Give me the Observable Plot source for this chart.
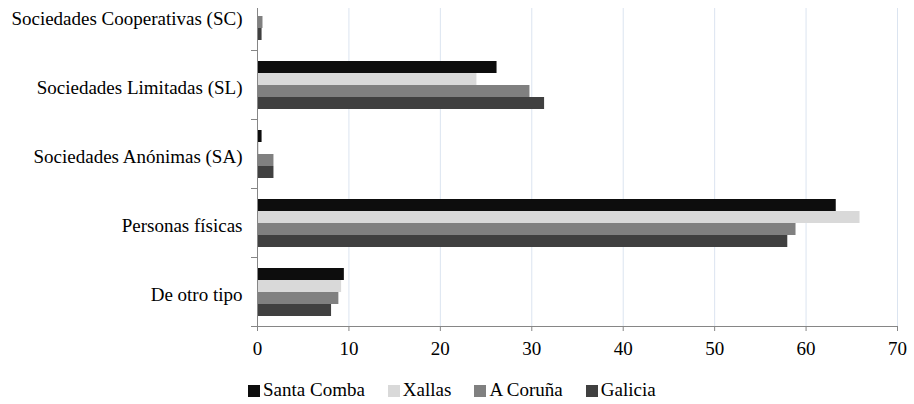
<!DOCTYPE html>
<html>
<head>
<meta charset="utf-8">
<script src="https://cdn.jsdelivr.net/npm/d3@7"></script>
<script src="https://cdn.jsdelivr.net/npm/@observablehq/plot@0.6"></script>
<style>
  html, body { margin: 0; padding: 0; background: white; }
  #wrap { position: relative; width: 914px; height: 404px; overflow: hidden; font-family: "Liberation Serif", "Times New Roman", "DejaVu Serif", serif; }
  #chart { position: absolute; left: 0; top: 8px; }
  #chart svg { overflow: visible; clip-path: polygon(0px -20px, 250px -20px, 250px 0px, 914px 0px, 914px 360px, 0px 360px); }
  #legend { position: absolute; left: 248px; top: 379px; display: flex; gap: 23px; font-size: 19px; color: #000; white-space: nowrap; }
  .item { display: flex; align-items: center; }
  .sw { width: 12px; height: 12px; margin-right: 3px; margin-top: 1px; }
</style>
</head>
<body>
<div id="wrap">
  <div id="chart"></div>
  <div id="legend"></div>
</div>
<script>
const categories = ["Sociedades Cooperativas (SC)", "Sociedades Limitadas (SL)", "Sociedades Anónimas (SA)", "Personas físicas", "De otro tipo"];
const series = ["Santa Comba", "Xallas", "A Coruña", "Galicia"];
const santaComba = [0, 26.2, 0.5, 63.3, 9.5];
const xallas = [0, 24.0, 0.2, 65.9, 9.2];
const aCoruna = [0.6, 29.8, 1.8, 58.9, 8.9];
const galicia = [0.5, 31.4, 1.8, 58.0, 8.1];
const xTicks = [0, 10, 20, 30, 40, 50, 60, 70];
const colors = ["#0d0d0d", "#d9d9d9", "#808080", "#404040"];

const values = [santaComba, xallas, aCoruna, galicia];
const rows = categories.flatMap((c, i) => series.map((s, j) => ({category: c, series: s, value: values[j][i]})));

const serifFont = "'Liberation Serif', 'Times New Roman', 'DejaVu Serif', serif";
const chart = Plot.plot({
  width: 914,
  height: 360,
  marginLeft: 257,
  marginRight: 17,
  marginTop: 0,
  marginBottom: 40,
  style: {fontFamily: serifFont, fontSize: "19px", color: "#000", background: "transparent"},
  x: {domain: [0, 70], axis: null},
  y: {domain: series, paddingInner: 0, paddingOuter: 0.8, axis: null},
  fy: {domain: categories, range: [-29, 320], paddingInner: 0, paddingOuter: 0, axis: null},
  color: {domain: series, range: colors},
  marks: [
    Plot.gridX(xTicks, {stroke: "#dbe4f0", strokeOpacity: 1}),
    Plot.barX(rows, {fy: "category", y: "series", x: "value", fill: "series"}),
    Plot.frame({anchor: "left", stroke: "#868686"}),
    Plot.frame({anchor: "top", stroke: "#868686", insetLeft: -6, insetRight: 640}),
    Plot.frame({anchor: "bottom", facetAnchor: "bottom", stroke: "#868686", insetLeft: -6}),
    Plot.axisX(xTicks, {tickSize: 5, tickPadding: 10, stroke: "#868686", fill: "#000", label: null, fontSize: 19, fontFamily: serifFont}),
    Plot.axisFy({anchor: "left", tickSize: 0, tickPadding: 15, dy: 3, label: null, fill: "#000", fontSize: 19, fontFamily: serifFont})
  ]
});
document.getElementById("chart").appendChild(chart);

const legend = document.getElementById("legend");
series.forEach((s, i) => {
  const item = document.createElement("div");
  item.className = "item";
  const sw = document.createElement("span");
  sw.className = "sw";
  sw.style.background = colors[i];
  const t = document.createElement("span");
  t.textContent = s;
  item.appendChild(sw);
  item.appendChild(t);
  legend.appendChild(item);
});
</script>
</body>
</html>
